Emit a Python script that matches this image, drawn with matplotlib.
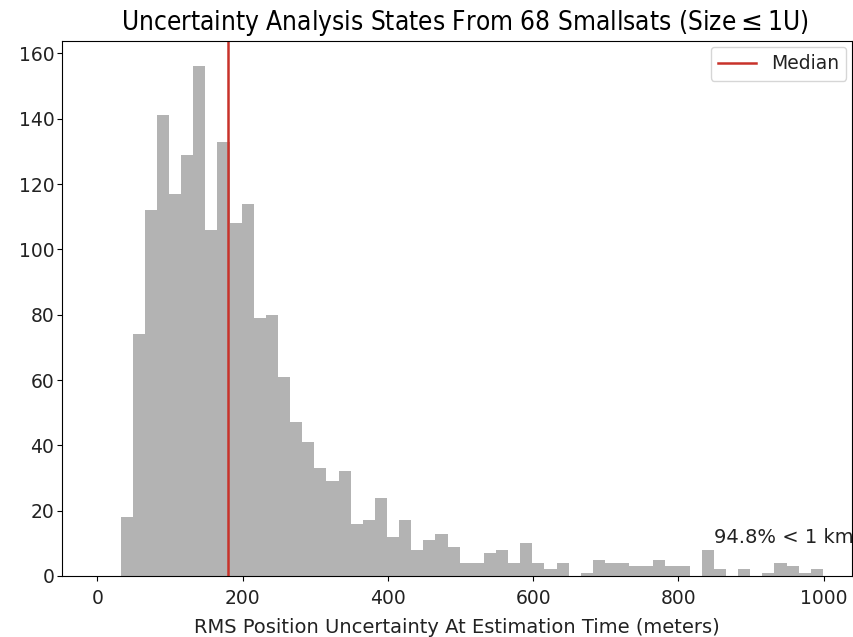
import numpy as np
import matplotlib
matplotlib.use("Agg")
import matplotlib.pyplot as plt

# histogram: 58 equal bins between ~32 m and ~999 m
edge_lo = 32.2
edge_hi = 999.0
counts = [18, 74, 112, 141, 117, 129, 156, 106, 133, 108,
          114, 79, 80, 61, 47, 41, 33, 29, 32, 16,
          17, 24, 12, 17, 8, 11, 13, 9, 4, 4,
          7, 8, 4, 10, 4, 2, 4, 0, 1, 5,
          4, 4, 3, 3, 5, 3, 3, 0, 8, 2,
          0, 2, 0, 1, 4, 3, 1, 2]
median_m = 180
pct_label = "94.8% < 1 km"

edges = np.linspace(edge_lo, edge_hi, len(counts) + 1)
centers = 0.5 * (edges[:-1] + edges[1:])

fig = plt.figure(figsize=(8.54, 6.37), dpi=100)
ax = fig.add_axes([0.0726, 0.0958, 0.925, 0.8398])

ax.hist(centers, bins=edges, weights=counts, color='#b3b3b3')
ax.axvline(median_m, color='#c8322a', lw=1.8, label='Median')

ax.text(849, 9, pct_label, fontsize=14, ha='left', va='bottom', color='#222222')

ax.set_xlim(-48.5, 1039)
ax.set_ylim(0, 163.8)
ax.set_xticks([0, 200, 400, 600, 800, 1000])
ax.set_yticks(np.arange(0, 161, 20))
ax.tick_params(labelsize=13.5, labelcolor='#222222')
ax.tick_params(axis='x', pad=6)
ax.tick_params(axis='y', pad=2)
ax.set_xlabel('RMS Position Uncertainty At Estimation Time (meters)',
              fontsize=14, color='#222222', labelpad=7)
ax.set_title('Uncertainty Analysis States From 68 Smallsats (Size$\\leq$1U)',
             fontsize=18.8, fontstretch='condensed', family='DejaVu Sans', pad=8, x=0.51)
leg = ax.legend(loc='upper right', fontsize=13.5, borderaxespad=0.3)
for t in leg.get_texts():
    t.set_color('#222222')

fig.savefig('out.png', dpi=100)
